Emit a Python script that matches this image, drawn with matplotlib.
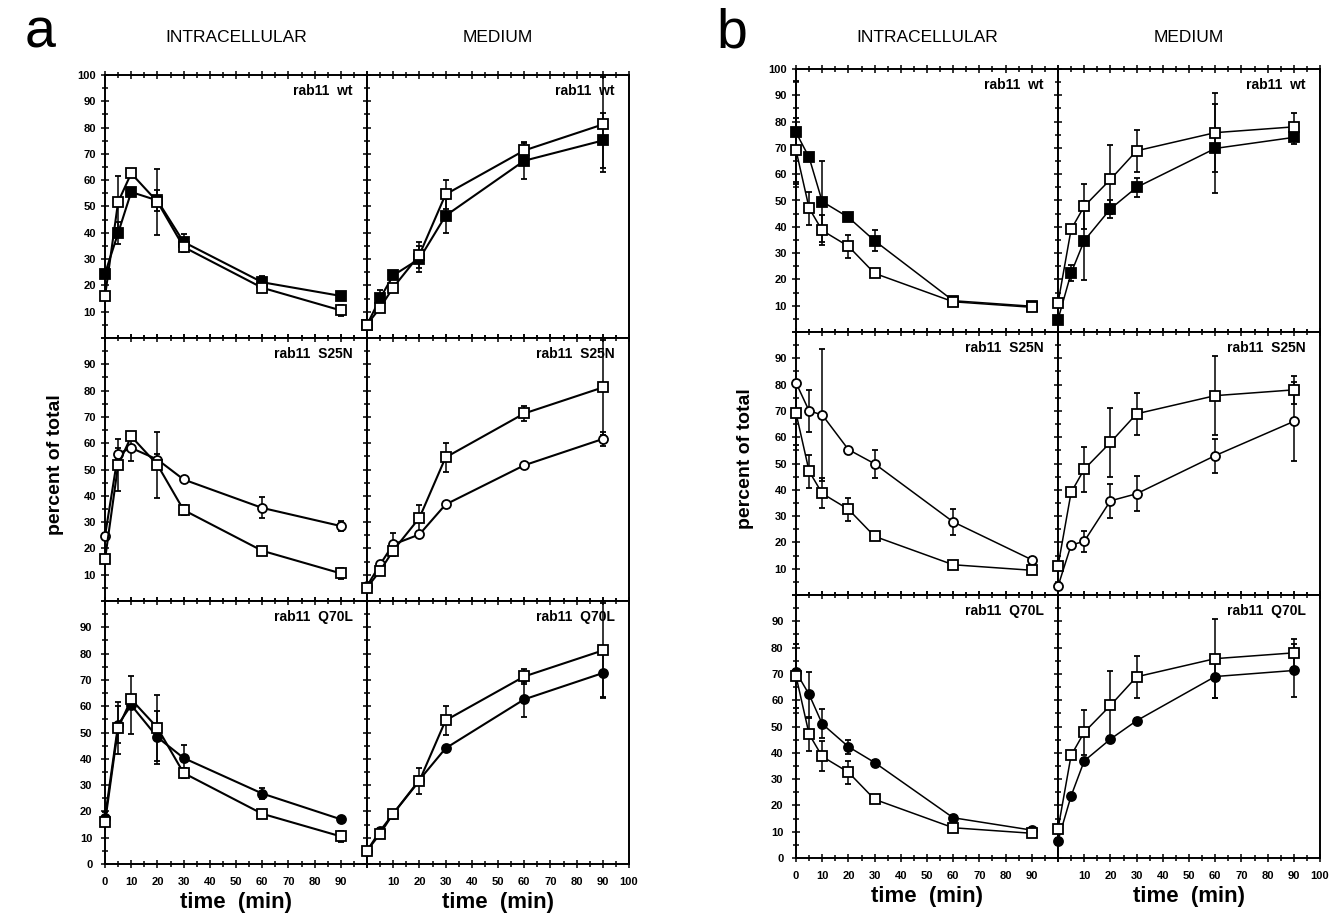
"""Rab11 transferrin recycling figure (panels a and b), redrawn with matplotlib."""
import matplotlib

matplotlib.use("Agg")
import matplotlib.pyplot as plt  # noqa: E402
from matplotlib.ticker import FuncFormatter, MultipleLocator  # noqa: E402

plt.rcParams["font.family"] = ["Liberation Sans", "DejaVu Sans"]

# ---- data (percent of total) ----
times = [0, 5, 10, 20, 30, 60, 90]

# panel a -- open squares = control, replotted in each row
a_ctrl_intra = [15.8, 51.7, 62.6, 51.8, 34.6, 19.1, 10.5]
a_ctrl_intra_err = [1, 10, 1, 12.5, 2, 1.5, 2]
a_ctrl_med = [5.1, 11.5, 19.2, 31.6, 54.6, 71.3, 81.2]
a_ctrl_med_err = [0, 1, 1, 5, 5.5, 3, 18]

a_wt_intra = [24.5, 39.9, 55.5, 52.3, 36.5, 21.2, 16.0]
a_wt_intra_err = [1.5, 4.3, 1, 4, 3, 2.5, 1]
a_wt_med = [5.0, 15.1, 23.8, 30.1, 46.5, 67.4, 75.1]
a_wt_med_err = [0, 3, 1, 5, 6.5, 7, 10.5]

a_s25n_intra = [24.7, 56.0, 58.2, 53.8, 46.2, 35.4, 28.5]
a_s25n_intra_err = [1, 2, 5, 2, 1, 4, 2]
a_s25n_med = [5.7, 13.9, 21.5, 25.3, 36.7, 51.6, 61.6]
a_s25n_med_err = [0, 1, 4.5, 1, 1, 1, 2.5]

a_q70l_intra = [17.6, 53.0, 60.4, 48.2, 40.3, 26.8, 17.0]
a_q70l_intra_err = [2, 7, 11, 10, 5, 2, 1]
a_q70l_med = [5.0, 12.6, 19.1, 32.0, 44.0, 62.6, 72.6]
a_q70l_med_err = [0, 1, 1, 1, 1, 6.6, 9]

# panel b
b_ctrl_intra = [69.2, 47.1, 38.6, 32.6, 22.3, 11.5, 9.4]
b_ctrl_intra_err = [12, 6.3, 5.7, 4.3, 1, 1, 1]
b_ctrl_med = [11.0, 39.0, 47.8, 58.0, 68.9, 75.8, 78.0]
b_ctrl_med_err = [1, 1, 8.5, 13, 8, 15, 5.3]

b_wt_intra = [75.9, 66.4, 49.6, 43.6, 34.7, 11.9, 9.8]
b_wt_intra_err = [19.5, 1, 15.5, 1, 4, 1, 1]
b_wt_med = [4.7, 22.4, 34.7, 46.8, 55.0, 69.8, 74.0]
b_wt_med_err = [1, 3, 15, 3.5, 3.5, 17, 2.5]

b_s25n_intra = [80.7, 70.0, 68.5, 55.3, 49.9, 27.8, 13.4]
b_s25n_intra_err = [1, 8, 25, 1, 5.4, 5, 1]
b_s25n_med = [3.3, 19.0, 20.4, 35.8, 38.5, 53.0, 66.0]
b_s25n_med_err = [1, 1, 4, 6.5, 6.6, 6.5, 15]

b_q70l_intra = [70.7, 62.2, 51.0, 42.3, 36.3, 15.3, 10.6]
b_q70l_intra_err = [1, 8.5, 5.5, 2.7, 1, 1, 1]
b_q70l_med = [6.6, 23.6, 36.9, 45.2, 52.2, 69.0, 71.3]
b_q70l_med_err = [1, 1, 1, 1, 1, 8, 10]

row_labels = ["rab11  wt", "rab11  S25N", "rab11  Q70L"]

W, H = 1338, 922
COL_W = 262
ROW_H = 263


def px_rect(x0, top, w, h):
    return [x0 / W, 1 - (top + h) / H, w / W, h / H]


def series(ax, y, err, marker, filled, lw):
    ax.errorbar(times, y, yerr=err, color="black", lw=lw, elinewidth=1.1,
                capsize=2, capthick=1.1, marker=marker, ms=6.5,
                mfc="black" if filled else "white", mec="black", mew=1.3,
                clip_on=False, zorder=3)


def style(ax, row, col):
    ax.set_xlim(0, 100)
    ax.set_ylim(0, 100)
    for s in ax.spines.values():
        s.set_linewidth(1.4)
    ax.xaxis.set_major_locator(MultipleLocator(10))
    ax.xaxis.set_minor_locator(MultipleLocator(5))
    ax.yaxis.set_major_locator(MultipleLocator(10))
    ax.yaxis.set_minor_locator(MultipleLocator(5))
    ax.tick_params(which="both", direction="inout", top=True, bottom=True,
                   left=True, right=False, width=1.1)
    ax.tick_params(which="major", length=6, labelsize=8)
    ax.tick_params(which="minor", length=4)
    for lab in ax.get_xticklabels() + ax.get_yticklabels():
        lab.set_fontweight("bold")

    if col == 0:
        if row == 0:
            keep_y = lambda v: v >= 10
        elif row == 1:
            keep_y = lambda v: 10 <= v <= 90
        else:
            keep_y = lambda v: v <= 90
        ax.yaxis.set_major_formatter(FuncFormatter(
            lambda v, p: f"{v:.0f}" if keep_y(round(v)) else ""))
    else:
        ax.tick_params(labelleft=False)

    if row == 2:
        if col == 0:
            ax.xaxis.set_major_formatter(FuncFormatter(
                lambda v, p: f"{v:.0f}" if round(v) <= 90 else ""))
        else:
            ax.xaxis.set_major_formatter(FuncFormatter(
                lambda v, p: f"{v:.0f}" if round(v) >= 10 else ""))
        ax.tick_params(labelbottom=True, pad=6)
    else:
        ax.tick_params(labelbottom=False)
    ax.text(0.945, 0.965, row_labels[row], transform=ax.transAxes,
            ha="right", va="top", fontsize=10, fontweight="bold")


def panel(fig, x0, top, letter, ctrl, mutants, lw):
    ctrl_intra, ctrl_intra_err, ctrl_med, ctrl_med_err = ctrl
    for row, (mut, marker, filled) in enumerate(mutants):
        m_intra, m_intra_err, m_med, m_med_err = mut
        for col in range(2):
            ax = fig.add_axes(px_rect(x0 + col * COL_W, top + row * ROW_H, COL_W, ROW_H))
            if col == 0:
                series(ax, m_intra, m_intra_err, marker, filled, lw)
                series(ax, ctrl_intra, ctrl_intra_err, "s", False, lw)
            else:
                series(ax, m_med, m_med_err, marker, filled, lw)
                series(ax, ctrl_med, ctrl_med_err, "s", False, lw)
            style(ax, row, col)

    # headers and axis titles
    fig.text((x0 - 80) / W, 1 - 33 / H, letter, fontsize=40, ha="left", va="center")
    fig.text((x0 + COL_W / 2) / W, 1 - 38 / H, "INTRACELLULAR", fontsize=12.5,
             ha="center", va="center")
    fig.text((x0 + 1.5 * COL_W) / W, 1 - 38 / H, "MEDIUM", fontsize=12.5,
             ha="center", va="center")
    fig.text((x0 - 50) / W, 1 - (top + 1.48 * ROW_H) / H, "percent of total",
             rotation=90, fontsize=14, fontweight="bold", ha="center", va="center")
    for col in range(2):
        fig.text((x0 + (col + 0.5) * COL_W) / W, 1 - (top + 3 * ROW_H + 38) / H,
                 "time  (min)", fontsize=16, fontweight="bold",
                 ha="center", va="center")


fig = plt.figure(figsize=(13.38, 9.22), dpi=100)

panel(fig, 105, 75, "a",
      (a_ctrl_intra, a_ctrl_intra_err, a_ctrl_med, a_ctrl_med_err),
      [((a_wt_intra, a_wt_intra_err, a_wt_med, a_wt_med_err), "s", True),
       ((a_s25n_intra, a_s25n_intra_err, a_s25n_med, a_s25n_med_err), "o", False),
       ((a_q70l_intra, a_q70l_intra_err, a_q70l_med, a_q70l_med_err), "o", True)],
      lw=1.5)

panel(fig, 796, 69, "b",
      (b_ctrl_intra, b_ctrl_intra_err, b_ctrl_med, b_ctrl_med_err),
      [((b_wt_intra, b_wt_intra_err, b_wt_med, b_wt_med_err), "s", True),
       ((b_s25n_intra, b_s25n_intra_err, b_s25n_med, b_s25n_med_err), "o", False),
       ((b_q70l_intra, b_q70l_intra_err, b_q70l_med, b_q70l_med_err), "o", True)],
      lw=1.1)

fig.savefig("out.png", dpi=100)
